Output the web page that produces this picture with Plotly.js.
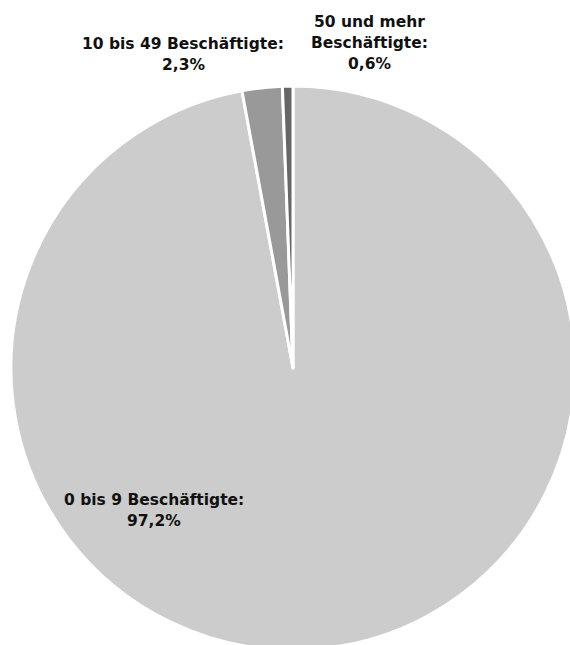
<!DOCTYPE html>
<html>
<head>
<meta charset="utf-8">
<script src="https://cdn.plot.ly/plotly-3.0.1.min.js"></script>
<style>
  html, body { margin: 0; padding: 0; width: 570px; height: 645px; overflow: hidden; background: #fff; }
  #chart { width: 586px; height: 660px; }
</style>
</head>
<body>
<div id="chart"></div>
<script>
// Data
var categories = ["0 bis 9 Beschäftigte:", "10 bis 49 Beschäftigte:", "50 und mehr<br>Beschäftigte:"];
var values = [97.2, 2.3, 0.6];
var valueLabels = ["97,2%", "2,3%", "0,6%"];
var colors = ["#cccccc", "#999999", "#666666"];

// Layout geometry
var W = 586, H = 660;
var M = {l: 11, r: 11, t: 86, b: 10};
var pw = W - M.l - M.r, ph = H - M.t - M.b;
function px2x(px) { return (px - M.l) / pw; }
function py2y(py) { return 1 - (py - M.t) / ph; }

// Label positions (pixels: center x, center y of first line)
var labelPos = [[154, 500], [183, 44], [369, 22]];
var lineStep = 21;

var annotations = [];
categories.forEach(function (c, i) {
  var lines = (c + "<br>" + valueLabels[i]).split("<br>");
  lines.forEach(function (ln, k) {
    annotations.push({
      text: "<b>" + ln + "</b>",
      xref: "paper", yref: "paper",
      x: px2x(labelPos[i][0]), y: py2y(labelPos[i][1] + k * lineStep),
      xanchor: "center", yanchor: "middle",
      showarrow: false, align: "center",
      font: {family: "DejaVu Sans", size: 15.5, color: "#111111"}
    });
  });
});

var trace = {
  type: "pie",
  labels: categories,
  values: values,
  sort: false,
  direction: "clockwise",
  rotation: 0,
  textinfo: "none",
  hoverinfo: "none",
  marker: {colors: colors, line: {color: "#ffffff", width: 3}},
  showlegend: false
};

Plotly.newPlot("chart", [trace], {
  width: W, height: H,
  margin: M,
  paper_bgcolor: "#ffffff",
  plot_bgcolor: "#ffffff",
  showlegend: false,
  annotations: annotations
}, {displayModeBar: false, staticPlot: true});
</script>
</body>
</html>
